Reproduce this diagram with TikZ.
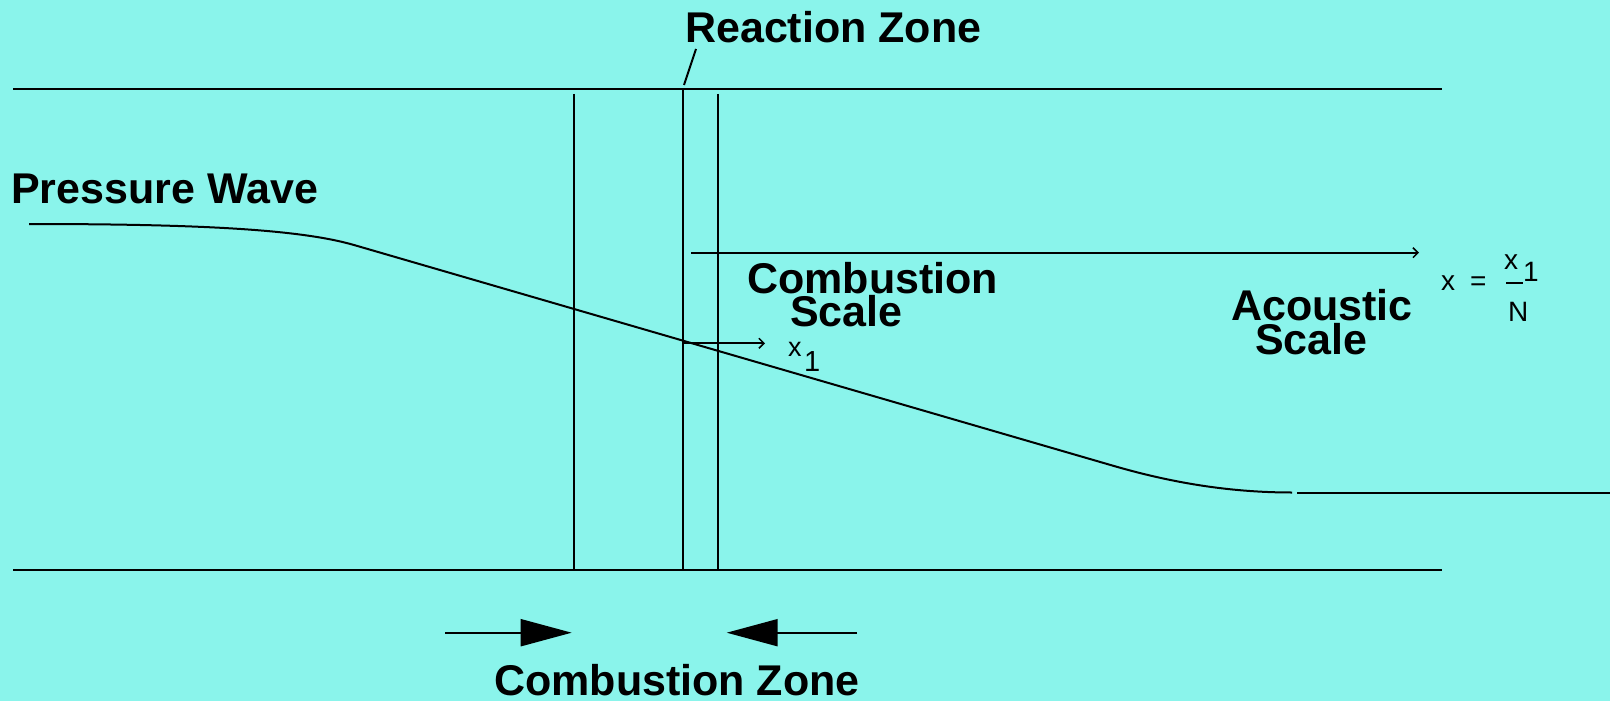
\documentclass[tikz,border=0pt]{standalone}
\usepackage{fontspec}
\setmainfont{Liberation Sans}
\usetikzlibrary{arrows.meta}
\definecolor{bg}{RGB}{138,244,235}
\begin{document}
\begin{tikzpicture}[x=1pt,y=-1pt,
  wall/.style={line width=2pt},
  big/.style={font=\fontsize{43}{43}\selectfont\bfseries,inner sep=0pt,anchor=base west,text height=31pt,text depth=0pt},
  small/.style={font=\fontsize{28}{28}\selectfont,inner sep=0pt,anchor=base west},
  barb/.style={line width=2pt,-{Straight Barb[length=5pt,width=10pt,line width=1.5pt]}},
  tri/.style={line width=2pt,-{Triangle[length=51pt,width=27pt]}}]
\fill[bg] (0,0) rectangle (1610,701);
\useasboundingbox (0,0) rectangle (1610,701);
% walls
\coordinate (tl) at (13,89); \coordinate (tr) at (1442,89);
\coordinate (bl) at (13,570); \coordinate (br) at (1442,570);
\draw[wall] (tl) -- (tr);
\draw[wall] (bl) -- (br);
% vertical lines
\coordinate (v1t) at (574,94); \coordinate (v1b) at (574,570);
\coordinate (v2t) at (682.5,89); \coordinate (v2b) at (682.5,570);
\coordinate (v3t) at (717.5,94); \coordinate (v3b) at (717.5,570);
\draw[wall] (v1t) -- (v1b);
\draw[wall] (v2t) -- (v2b);
\draw[wall] (v3t) -- (v3b);
% reaction zone
\node[big] (rz) at (685,43) {Reaction Zone};
\coordinate (rzl1) at (684,85); \coordinate (rzl2) at (696,49);
\draw[wall] (rzl1) -- (rzl2);
% pressure wave
\node[big] (pw) at (11,203) {Pressure Wave};
\coordinate (p0) at (29,224); \coordinate (p1) at (354,245);
\coordinate (p2) at (1114,466); \coordinate (p3) at (1292,492.5);
\coordinate (p4) at (1297,492.5); \coordinate (p5) at (1610,492.5);
\draw[wall] (p0) .. controls (200,224) and (300,229.4) .. (p1) -- (p2)
  .. controls (1160,479.3) and (1220,492.5) .. (p3);
\draw[wall] (p4) -- (p5);
% acoustic scale arrow
\coordinate (a0) at (691,252.7); \coordinate (a1) at (1419,252.7);
\draw[barb] (a0) -- (a1);
% combustion scale arrow
\coordinate (c0) at (682.5,343.3); \coordinate (c1) at (765,343.3);
\draw[barb] (c0) -- (c1);
\node[inner sep=0pt,anchor=base west,font=\fontsize{27}{27}\selectfont] (x1a) at (788,356) {x};
\node[inner sep=0pt,anchor=base west,font=\fontsize{29}{29}\selectfont] (x1b) at (804,371.7) {1};
% labels
\node[big] (cs1) at (747,293) {Combustion};
\node[big] (cs2) at (790,326.7) {Scale};
\node[big] (as1) at (1231,320) {Acoustic};
\node[big] (as2) at (1255,354) {Scale};
% formula
\node[small] (fx) at (1441,290.7) {x};
\node[small] (feq) at (1470,290.7) {=};
\node[small] (fnum) at (1504,269.3) {x};
\node[inner sep=0pt,anchor=base west,font=\fontsize{28}{28}\selectfont] (fone) at (1523,281) {1};
\node[small] (fden) at (1508,321.7) {N};
\coordinate (fb0) at (1506,282.7); \coordinate (fb1) at (1523,282.7);
\draw[line width=2pt] (fb0) -- (fb1);
% combustion zone arrows
\coordinate (l0) at (445,632.7); \coordinate (l1) at (571.7,632.7);
\coordinate (r0) at (857,632.7); \coordinate (r1) at (726.7,632.7);
\draw[tri] (l0) -- (l1);
\draw[tri] (r0) -- (r1);
\node[big] (cz) at (494,695) {Combustion Zone};
\end{tikzpicture}
\end{document}
